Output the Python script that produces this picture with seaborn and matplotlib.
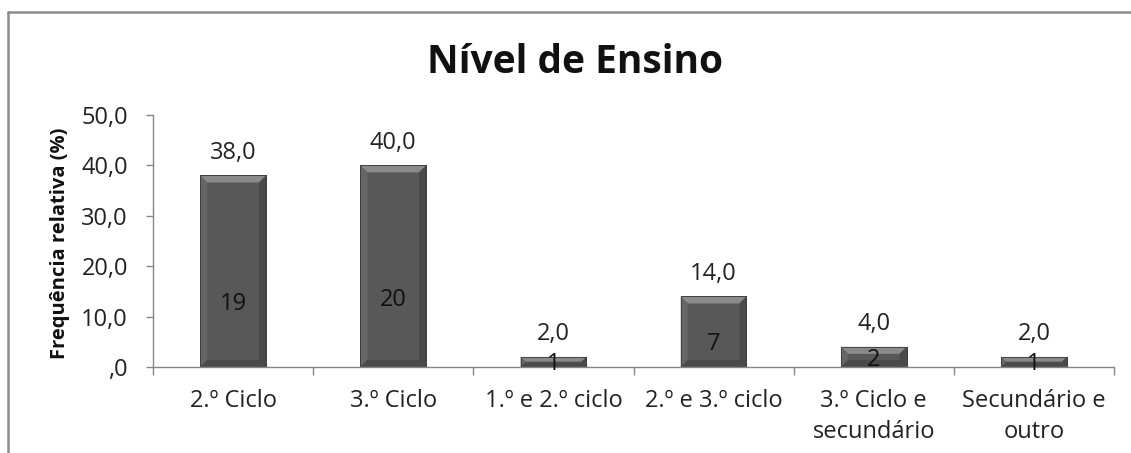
import matplotlib
matplotlib.use("Agg")
import matplotlib.pyplot as plt
import seaborn as sns
import pandas as pd
from matplotlib.patches import Polygon
from matplotlib.lines import Line2D

# Data
categories = ["2.º Ciclo", "3.º Ciclo", "1.º e 2.º ciclo", "2.º e 3.º ciclo",
              "3.º Ciclo e\nsecundário", "Secundário e\noutro"]
percent = [38.0, 40.0, 2.0, 14.0, 4.0, 2.0]
counts = [19, 20, 1, 7, 2, 1]
y_ticks = [0, 10, 20, 30, 40, 50]
y_tick_labels = [",0", "10,0", "20,0", "30,0", "40,0", "50,0"]

sns.set_theme(style="white")
plt.rcParams["font.family"] = ["Open Sans", "DejaVu Sans"]

GRID = "#868686"
FACE = "#585858"
FS = 17

fig = plt.figure(figsize=(11.31, 4.53), dpi=100)
ax = fig.add_axes([0.1353, 0.1898, 0.8497, 0.5563])

df = pd.DataFrame({"Nível": categories, "Frequência": percent})
sns.barplot(data=df, x="Nível", y="Frequência", color=FACE, saturation=1,
            width=0.41, ax=ax, edgecolor="#3c3c3c", linewidth=0.6)

ax.set_xlim(-0.5, len(categories) - 0.5)
ax.set_ylim(0, 50)

# bevelled look on each bar
fig.canvas.draw()
inv = ax.transData.inverted()
o = inv.transform((0, 0))
px = inv.transform((1, 1)) - o
for p in list(ax.patches):
    x, y = p.get_x(), p.get_y()
    w, h = p.get_width(), p.get_height()
    d_px = min(7, (h / px[1]) / 2.2)
    dx, dy = d_px * px[0], d_px * px[1]
    faces = [
        ([(x, y + h), (x + w, y + h), (x + w - dx, y + h - dy), (x + dx, y + h - dy)], "#8a8a8a"),
        ([(x, y), (x, y + h), (x + dx, y + h - dy), (x + dx, y + dy)], "#666666"),
        ([(x + w, y), (x + w, y + h), (x + w - dx, y + h - dy), (x + w - dx, y + dy)], "#4a4a4a"),
        ([(x, y), (x + w, y), (x + w - dx, y + dy), (x + dx, y + dy)], "#4a4a4a"),
    ]
    for pts, col in faces:
        ax.add_patch(Polygon(pts, closed=True, facecolor=col, edgecolor="none", zorder=p.get_zorder() + 0.1))
    ax.add_patch(plt.Rectangle((x, y), w, h, fill=False, edgecolor="#3a3a3a",
                               linewidth=0.6, zorder=p.get_zorder() + 0.2))

# value labels above bars
for i, v in enumerate(percent):
    ax.annotate(f"{v:.1f}".replace(".", ","), (i, v), xytext=(0, 12), textcoords="offset points",
                ha="center", va="baseline", fontsize=FS, color="#222222", zorder=5)

# count labels inside bars
for i, c in enumerate(counts):
    ax.text(i, c * 0.66, str(c), ha="center", va="center", fontsize=FS, color="#111111", zorder=5)

# axes styling
sns.despine(ax=ax, top=True, right=True)
for s in ("left", "bottom"):
    ax.spines[s].set_color(GRID)
    ax.spines[s].set_linewidth(1.0)

ax.set_yticks(y_ticks)
ax.set_yticklabels(y_tick_labels, fontsize=FS, color="#222222")
ax.tick_params(axis="y", direction="out", length=5, width=1, color=GRID, pad=13, left=True)

ax.set_xticks(range(len(categories)))
ax.set_xticklabels(categories, fontsize=FS, color="#222222", linespacing=1.4)
ax.tick_params(axis="x", which="major", length=0, pad=16)
ax.set_xticks([i - 0.5 for i in range(len(categories) + 1)], minor=True)
ax.tick_params(axis="x", which="minor", direction="out", length=6, width=1, color=GRID, bottom=True)

ax.set_xlabel("")
ax.set_ylabel("Frequência relativa (%)", fontsize=14.5, fontweight="bold", color="#111111")
ax.yaxis.set_label_coords(-0.0864, 0.49)

fig.text(0.508, 1 - 73 / 453, "Nível de Ensino", ha="center", va="baseline",
         fontsize=28, fontweight="bold", color="#111111")

# outer frame (top and left edges)
fig.add_artist(Line2D([8 / 1131, 1.0], [1 - 12 / 453, 1 - 12 / 453], transform=fig.transFigure,
                      color="#8c8c8c", linewidth=1.8))
fig.add_artist(Line2D([8 / 1131, 8 / 1131], [0, 1 - 12 / 453], transform=fig.transFigure,
                      color="#8c8c8c", linewidth=1.8))

fig.savefig("out.png", dpi=100, facecolor="white")
